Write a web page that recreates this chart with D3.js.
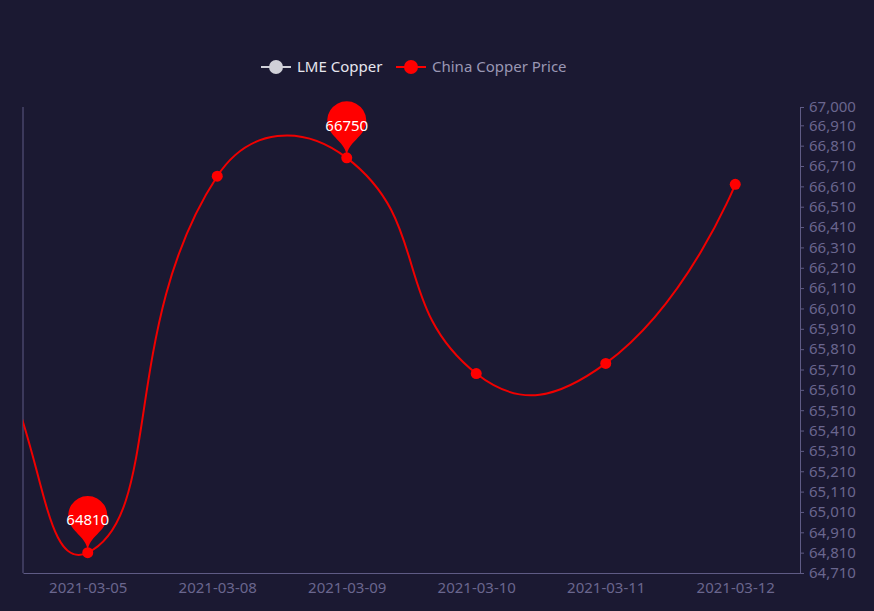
<!DOCTYPE html>
<html>
<head>
<meta charset="utf-8">
<script src="https://cdn.jsdelivr.net/npm/d3@7"></script>
<style>
  html, body { margin: 0; padding: 0; background: #1b1932; }
  svg { display: block; }
  svg text { font-family: "Noto Sans", "Open Sans", sans-serif; }
</style>
</head>
<body>
<svg></svg>
<script>
// categories (first two sit left of the visible window, the line runs in from them)
let categories = ['2021-03-03', '2021-03-04', '2021-03-05', '2021-03-08', '2021-03-09', '2021-03-10', '2021-03-11', '2021-03-12'];
let chinaPrice = [66050, 66050, 64810, 66660, 66750, 65690, 65740, 66620];
let firstVisible = 2;
let legendNames = ['LME Copper', 'China Copper Price'];
let yMin = 64710;
let yMax = 67000;
let yStep = 100;

let width = 874;
let height = 611;
let grid = { left: 23, right: 800, top: 107, bottom: 573 };

let svg = d3.select('svg')
    .attr('width', width)
    .attr('height', height);

svg.append('rect')
    .attr('width', width)
    .attr('height', height)
    .attr('fill', '#1b1932');

// scales
let xScale = d3.scaleLinear()
    .domain([firstVisible - 0.5, categories.length - 0.5])
    .range([grid.left, grid.right]);

let yScale = d3.scaleLinear()
    .domain([yMin, yMax])
    .range([grid.bottom, grid.top]);

let yTicks = d3.range(yMin, yMax, yStep).concat([yMax]);

// left line (axis of the other series)
svg.append('line')
    .attr('x1', grid.left).attr('x2', grid.left)
    .attr('y1', grid.top).attr('y2', grid.bottom)
    .attr('stroke', '#5f5b85')
    .attr('stroke-width', 1);

// y axis on the right
let yAxis = d3.axisRight(yScale)
    .tickValues(yTicks)
    .tickSize(4)
    .tickPadding(5)
    .tickFormat(d3.format(','));

let yG = svg.append('g')
    .attr('transform', `translate(${grid.right}, 0)`)
    .attr('font-family', null)
    .call(yAxis);
yG.select('.domain').attr('stroke', '#5f5b85');
yG.selectAll('.tick line').attr('stroke', '#5f5b85');
yG.selectAll('.tick text')
    .attr('fill', '#6a668e')
    .style('font-size', '15px');

// x axis at the bottom
let visibleIdx = d3.range(firstVisible, categories.length);
let xAxis = d3.axisBottom(xScale)
    .tickValues(visibleIdx)
    .tickSize(0)
    .tickPadding(9)
    .tickFormat((i) => categories[i]);

let xG = svg.append('g')
    .attr('transform', `translate(0, ${grid.bottom})`)
    .call(xAxis);
xG.select('.domain').attr('stroke', '#5f5b85');
xG.selectAll('.tick text')
    .attr('fill', '#6a668e')
    .style('font-size', '15px');

// clip to the grid
svg.append('clipPath')
    .attr('id', 'clip')
    .append('rect')
    .attr('x', grid.left)
    .attr('y', 0)
    .attr('width', grid.right - grid.left)
    .attr('height', height);

// smooth line like echarts (smooth = 0.5)
let smoothPath = (pts, smooth) => {
    let p = d3.path();
    let n = pts.length;
    let cps = pts.map((pt, i) => {
        if (i === 0 || i === n - 1) return { back: pt, fwd: pt };
        let prev = pts[i - 1], next = pts[i + 1];
        let vx = next[0] - prev[0], vy = next[1] - prev[1];
        let d0 = Math.hypot(pt[0] - prev[0], pt[1] - prev[1]);
        let d1 = Math.hypot(next[0] - pt[0], next[1] - pt[1]);
        let r = d1 / (d0 + d1);
        return {
            back: [pt[0] - vx * smooth * (1 - r), pt[1] - vy * smooth * (1 - r)],
            fwd: [pt[0] + vx * smooth * r, pt[1] + vy * smooth * r]
        };
    });
    p.moveTo(pts[0][0], pts[0][1]);
    for (let i = 1; i < n; i++) {
        p.bezierCurveTo(cps[i - 1].fwd[0], cps[i - 1].fwd[1], cps[i].back[0], cps[i].back[1], pts[i][0], pts[i][1]);
    }
    return p.toString();
};

let pts = chinaPrice.map((v, i) => [xScale(i), yScale(v)]);

let plot = svg.append('g').attr('clip-path', 'url(#clip)');

plot.append('path')
    .attr('d', smoothPath(pts, 0.5))
    .attr('fill', 'none')
    .attr('stroke', '#f00000')
    .attr('stroke-width', 2);

plot.selectAll('circle.dot')
    .data(visibleIdx)
    .enter()
    .append('circle')
    .attr('class', 'dot')
    .attr('cx', (i) => xScale(i))
    .attr('cy', (i) => yScale(chinaPrice[i]))
    .attr('r', 5.5)
    .attr('fill', '#ff0000');

// mark points (max / min) as pins
let pinPath = (x, y, w, h) => {
    w = w / 5 * 3;
    h = Math.max(w, h);
    let r = w / 2;
    let dy = r * r / (h - r);
    let cy = y - h + r + dy;
    let angle = Math.asin(dy / r);
    let dx = Math.cos(angle) * r;
    let tanX = Math.sin(angle);
    let tanY = Math.cos(angle);
    let cpLen = r * 0.6;
    let cpLen2 = r * 0.7;
    let p = d3.path();
    p.moveTo(x - dx, cy + dy);
    p.arc(x, cy, r, Math.PI - angle, Math.PI * 2 + angle);
    p.bezierCurveTo(x + dx - tanX * cpLen, cy + dy + tanY * cpLen, x, y - cpLen2, x, y);
    p.bezierCurveTo(x, y - cpLen2, x - dx + tanX * cpLen, cy + dy + tanY * cpLen, x - dx, cy + dy);
    p.closePath();
    return p.toString();
};

let visVals = visibleIdx.map((i) => chinaPrice[i]);
let markIdx = [
    visibleIdx[d3.maxIndex(visVals)],
    visibleIdx[d3.minIndex(visVals)]
];
let pinSize = 65;

let pins = svg.selectAll('g.pin')
    .data(markIdx)
    .enter()
    .append('g')
    .attr('class', 'pin');

pins.append('path')
    .attr('d', (i) => pinPath(xScale(i), yScale(chinaPrice[i]), pinSize, pinSize))
    .attr('fill', '#ff0000');

pins.append('text')
    .attr('x', (i) => xScale(i))
    .attr('y', (i) => yScale(chinaPrice[i]) - pinSize / 2)
    .attr('dy', '0.35em')
    .attr('text-anchor', 'middle')
    .attr('fill', '#ffffff')
    .style('font-size', '15px')
    .text((i) => chinaPrice[i]);

// legend
let legendColors = ['#d0d0d8', '#ff0000'];
let legendText = ['#e6e6ee', '#9a97b4'];
let legendX = [261, 396];
let legendY = 67;

let legend = svg.selectAll('g.legend')
    .data(legendNames)
    .enter()
    .append('g')
    .attr('class', 'legend')
    .attr('transform', (d, i) => `translate(${legendX[i]}, ${legendY})`);

legend.append('line')
    .attr('x1', 0).attr('x2', 30)
    .attr('stroke', (d, i) => legendColors[i])
    .attr('stroke-width', 2);

legend.append('circle')
    .attr('cx', 15)
    .attr('r', 7)
    .attr('fill', (d, i) => legendColors[i]);

legend.append('text')
    .attr('x', 36)
    .attr('dy', '0.35em')
    .attr('fill', (d, i) => legendText[i])
    .style('font-size', '15px')
    .text((d) => d);
</script>
</body>
</html>
